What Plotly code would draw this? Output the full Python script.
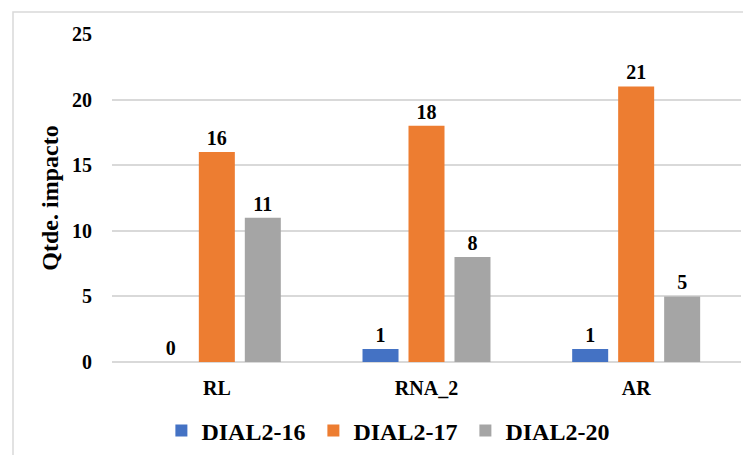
import plotly.graph_objects as go

categories = ["RL", "RNA_2", "AR"]
series_names = ["DIAL2-16", "DIAL2-17", "DIAL2-20"]
dial2_16 = [0, 1, 1]
dial2_17 = [16, 18, 21]
dial2_20 = [11, 8, 5]
colors = ["#4472C4", "#ED7D31", "#A5A5A5"]
y_ticks = [0, 5, 10, 15, 20, 25]
y_title = "Qtde. impacto"

FONT = "Liberation Serif, Times New Roman, serif"
fig = go.Figure()
for name, vals, col in zip(series_names, [dial2_16, dial2_17, dial2_20], colors):
    fig.add_trace(go.Bar(
        name="<b>" + name + "</b>", x=categories, y=vals,
        marker=dict(color=col, line=dict(width=0)),
        texttemplate="<b>%{y}</b>", textposition="outside", cliponaxis=False,
        textfont=dict(family=FONT, size=20, color="#000000"),
    ))

fig.update_layout(
    width=751, height=455,
    margin=dict(l=104, r=18, t=26, b=101, autoexpand=False),
    paper_bgcolor="white", plot_bgcolor="white",
    barmode="group", bargap=0.342, bargroupgap=0.217,
    font=dict(family=FONT, color="#000000"),
    showlegend=True,
    legend=dict(orientation="h", x=0.441, xanchor="center", y=-0.21, yanchor="middle",
                font=dict(family=FONT, size=24, color="#000000"),
                entrywidth=107, itemwidth=30, traceorder="normal"),
    xaxis=dict(showgrid=False, showline=False, ticks="",
               tickvals=categories, ticktext=["<b>" + c + "</b>" for c in categories],
               tickfont=dict(family=FONT, size=20), ticklabelstandoff=12),
    yaxis=dict(range=[0, 25], tickvals=y_ticks, ticktext=["<b>%d</b>" % t for t in y_ticks],
               showgrid=True, gridcolor="#D9D9D9", gridwidth=1.5,
               zeroline=True, zerolinecolor="#D9D9D9", zerolinewidth=1.5, showline=False, ticks="",
               tickfont=dict(family=FONT, size=20), ticklabelstandoff=19,
               title=dict(text="<b>" + y_title + "</b>", font=dict(family=FONT, size=24), standoff=6)),
    shapes=[dict(type="rect", xref="paper", yref="paper",
                 x0=-0.1574, x1=1.05, y0=-0.35, y1=1.067,
                 line=dict(color="#D9D9D9", width=1.5), fillcolor="rgba(0,0,0,0)", layer="below")],
)

fig.write_html("out.html")
